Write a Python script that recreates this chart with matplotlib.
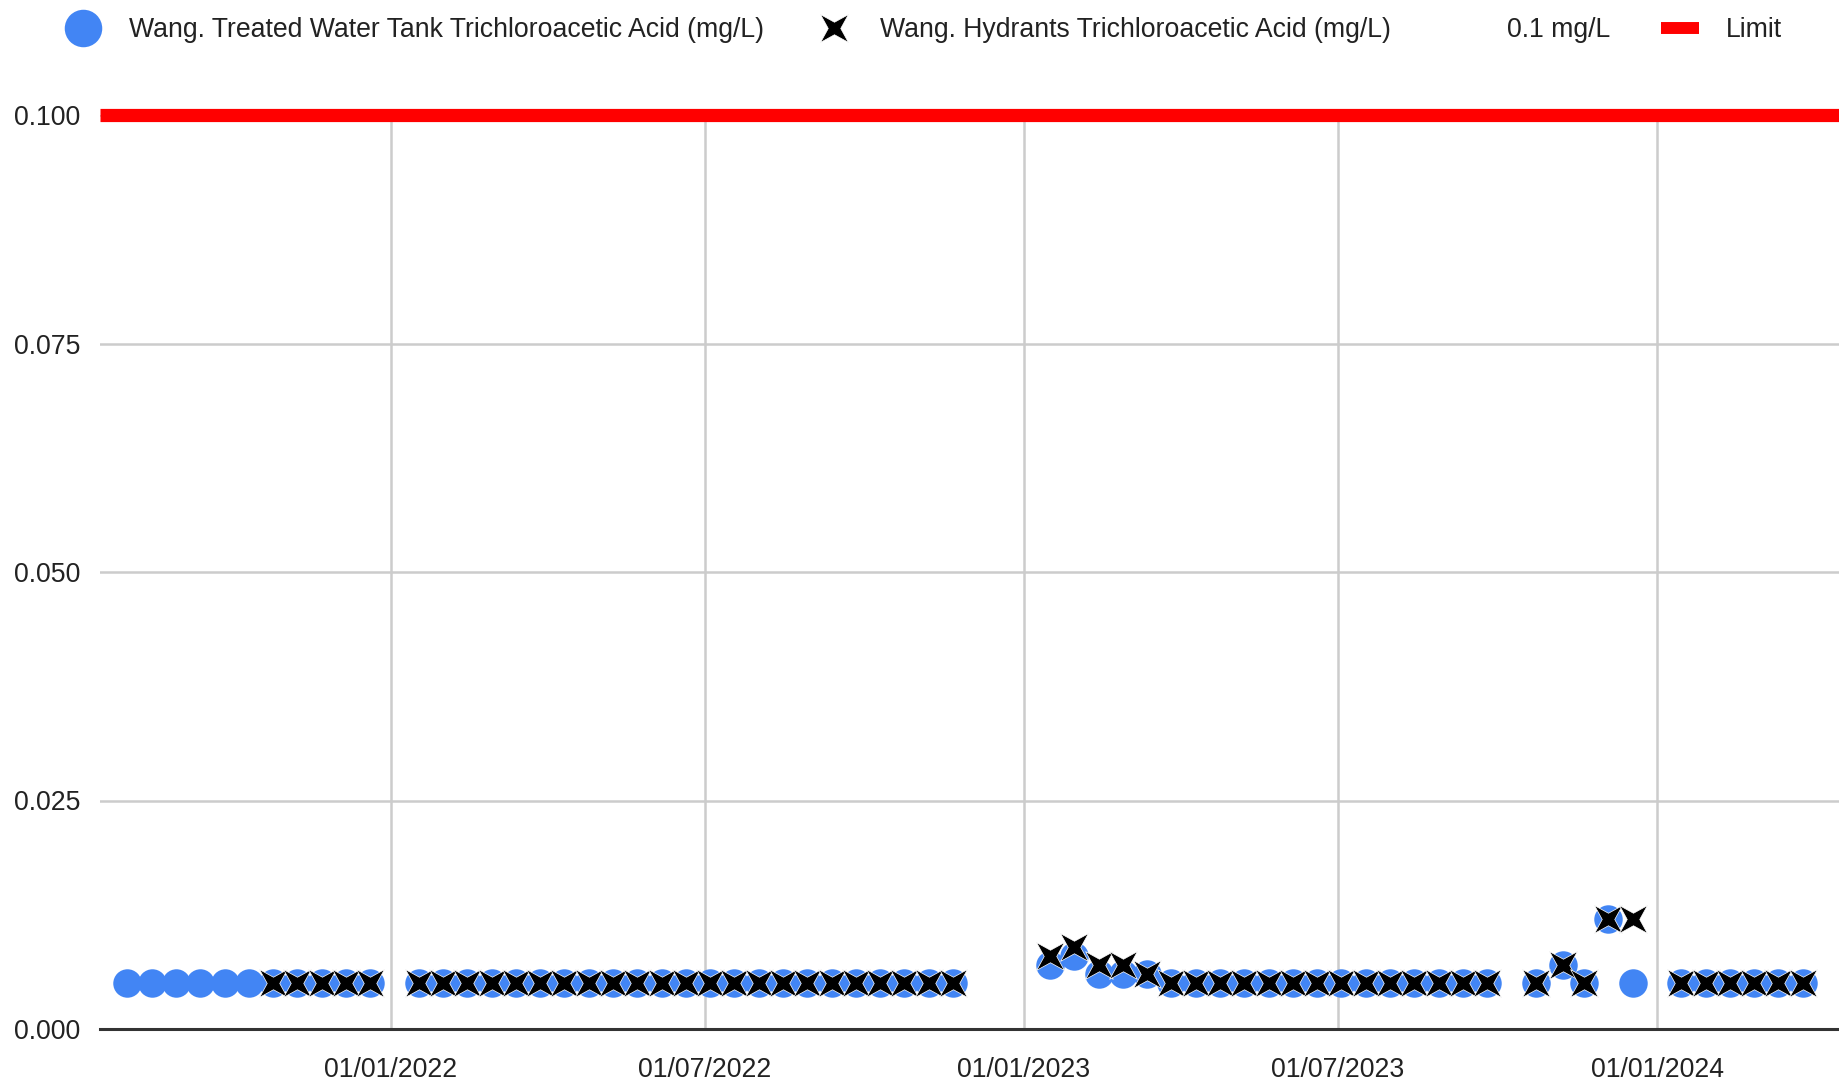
import matplotlib
matplotlib.use("Agg")
import matplotlib.pyplot as plt
import matplotlib.dates as mdates
from matplotlib.lines import Line2D
from matplotlib.path import Path
from matplotlib import font_manager
import pandas as pd

# ---------------- data ----------------
tank_dates = [
    "2021-08-02", "2021-08-16", "2021-08-30", "2021-09-13", "2021-09-27", "2021-10-11",
    "2021-10-25", "2021-11-08", "2021-11-22", "2021-12-06", "2021-12-20",
    "2022-01-17", "2022-01-31", "2022-02-14", "2022-02-28", "2022-03-14", "2022-03-28",
    "2022-04-11", "2022-04-25", "2022-05-09", "2022-05-23", "2022-06-06", "2022-06-20",
    "2022-07-04", "2022-07-18", "2022-08-01", "2022-08-15", "2022-08-29", "2022-09-12",
    "2022-09-26", "2022-10-10", "2022-10-24", "2022-11-07", "2022-11-21",
    "2023-01-16", "2023-01-30", "2023-02-13", "2023-02-27", "2023-03-13",
    "2023-03-27", "2023-04-10", "2023-04-24", "2023-05-08", "2023-05-22", "2023-06-05",
    "2023-06-19", "2023-07-03", "2023-07-17", "2023-07-31", "2023-08-14", "2023-08-28",
    "2023-09-11", "2023-09-25",
    "2023-10-23", "2023-11-08", "2023-11-20", "2023-12-04", "2023-12-18",
    "2024-01-15", "2024-01-29", "2024-02-12", "2024-02-26", "2024-03-11", "2024-03-25",
]
tank_values = [
    0.005, 0.005, 0.005, 0.005, 0.005, 0.005,
    0.005, 0.005, 0.005, 0.005, 0.005,
    0.005, 0.005, 0.005, 0.005, 0.005, 0.005,
    0.005, 0.005, 0.005, 0.005, 0.005, 0.005,
    0.005, 0.005, 0.005, 0.005, 0.005, 0.005,
    0.005, 0.005, 0.005, 0.005, 0.005,
    0.007, 0.008, 0.006, 0.006, 0.006,
    0.005, 0.005, 0.005, 0.005, 0.005, 0.005,
    0.005, 0.005, 0.005, 0.005, 0.005, 0.005,
    0.005, 0.005,
    0.005, 0.007, 0.005, 0.012, 0.005,
    0.005, 0.005, 0.005, 0.005, 0.005, 0.005,
]

hydrant_dates = [
    "2021-10-25", "2021-11-08", "2021-11-22", "2021-12-06", "2021-12-20",
    "2022-01-17", "2022-01-31", "2022-02-14", "2022-02-28", "2022-03-14", "2022-03-28",
    "2022-04-11", "2022-04-25", "2022-05-09", "2022-05-23", "2022-06-06", "2022-06-20",
    "2022-07-04", "2022-07-18", "2022-08-01", "2022-08-15", "2022-08-29", "2022-09-12",
    "2022-09-26", "2022-10-10", "2022-10-24", "2022-11-07", "2022-11-21",
    "2023-01-16", "2023-01-30", "2023-02-13", "2023-02-27", "2023-03-13",
    "2023-03-27", "2023-04-10", "2023-04-24", "2023-05-08", "2023-05-22", "2023-06-05",
    "2023-06-19", "2023-07-03", "2023-07-17", "2023-07-31", "2023-08-14", "2023-08-28",
    "2023-09-11", "2023-09-25",
    "2023-10-23", "2023-11-08", "2023-11-20", "2023-12-04", "2023-12-18",
    "2024-01-15", "2024-01-29", "2024-02-12", "2024-02-26", "2024-03-11", "2024-03-25",
]
hydrant_values = [
    0.005, 0.005, 0.005, 0.005, 0.005,
    0.005, 0.005, 0.005, 0.005, 0.005, 0.005,
    0.005, 0.005, 0.005, 0.005, 0.005, 0.005,
    0.005, 0.005, 0.005, 0.005, 0.005, 0.005,
    0.005, 0.005, 0.005, 0.005, 0.005,
    0.008, 0.009, 0.007, 0.007, 0.006,
    0.005, 0.005, 0.005, 0.005, 0.005, 0.005,
    0.005, 0.005, 0.005, 0.005, 0.005, 0.005,
    0.005, 0.005,
    0.005, 0.007, 0.005, 0.012, 0.012,
    0.005, 0.005, 0.005, 0.005, 0.005, 0.005,
]

limit_value = 0.1
x_range = ["2021-07-17 05:00", "2024-04-15 12:00"]
x_ticks = ["2022-01-01", "2022-07-01", "2023-01-01", "2023-07-01", "2024-01-01"]
y_ticks = [0.0, 0.025, 0.05, 0.075, 0.1]

series_names = [
    "Wang. Treated Water Tank Trichloroacetic Acid (mg/L)",
    "Wang. Hydrants Trichloroacetic Acid (mg/L)",
    "0.1 mg/L",
    "Limit",
]

# ---------------- style ----------------
names = {f.name for f in font_manager.fontManager.ttflist}
if "Liberation Sans Narrow" in names:
    FONT = ["Liberation Sans Narrow", "Liberation Sans", "DejaVu Sans"]
    FS = 23
else:
    FONT = ["Liberation Sans", "DejaVu Sans"]
    FS = 19.2
plt.rcParams["font.family"] = FONT

BLUE = "#4285F4"
RED = "#FF0000"
GRID = "#CCCCCC"
TEXT = "#222222"

W, H = 1840, 1086
fig = plt.figure(figsize=(W / 100, H / 100), dpi=100)
ax = fig.add_axes([100 / W, 1 - 1029 / H, 1740 / W, (1029 - 115) / H])

r = 0.45
star = Path([(-1, -1), (0, -r), (1, -1), (r, 0), (1, 1), (0, r),
             (-1, 1), (-r, 0), (-1, -1)],
            [Path.MOVETO] + [Path.LINETO] * 7 + [Path.CLOSEPOLY])

td = pd.to_datetime(tank_dates)
hd = pd.to_datetime(hydrant_dates)

ax.plot(td, tank_values, linestyle="none", marker="o", markersize=20.5,
        markerfacecolor=BLUE, markeredgewidth=0, zorder=3)
ax.plot(hd, hydrant_values, linestyle="none", marker=star, markersize=20,
        markerfacecolor="black", markeredgecolor="white", markeredgewidth=0.5, zorder=4)
ax.axhline(limit_value, color=RED, linewidth=9.5, clip_on=False, zorder=5,
           solid_capstyle="butt")

ax.set_xlim(pd.to_datetime(x_range[0]), pd.to_datetime(x_range[1]))
ax.set_ylim(0, 0.1)
ax.set_xticks(pd.to_datetime(x_ticks))
ax.xaxis.set_major_formatter(mdates.DateFormatter("%d/%m/%Y"))
ax.set_yticks(y_ticks)
ax.set_yticklabels([f"{v:.3f}" for v in y_ticks])

ax.grid(True, color=GRID, linewidth=1.8, zorder=0)
ax.set_axisbelow(True)
for s in ["top", "right", "left"]:
    ax.spines[s].set_visible(False)
ax.spines["bottom"].set_color("#333333")
ax.spines["bottom"].set_linewidth(2.2)
ax.spines["bottom"].set_zorder(2)
ax.tick_params(axis="both", length=0, labelsize=FS, colors=TEXT)
ax.tick_params(axis="y", pad=14)
ax.tick_params(axis="x", pad=20)

# legend
px = FS * 100 / 72
handles = [
    Line2D([], [], linestyle="none", marker="o", markersize=27,
           markerfacecolor=BLUE, markeredgewidth=0),
    Line2D([], [], linestyle="none", marker=star, markersize=20,
           markerfacecolor="black", markeredgecolor="white", markeredgewidth=0.5),
    Line2D([], [], color="none"),
    Line2D([], [], color=RED, linewidth=8.6, solid_capstyle="butt"),
]
leg = fig.legend(handles, series_names, loc="center left",
                 bbox_to_anchor=(64 / W, 1 - 30 / H), ncol=4, frameon=False,
                 fontsize=FS, borderpad=0, borderaxespad=0,
                 handlelength=38 / px, handletextpad=27 / px,
                 columnspacing=51 / px, labelcolor=TEXT)

fig.savefig("out.png", dpi=100)
